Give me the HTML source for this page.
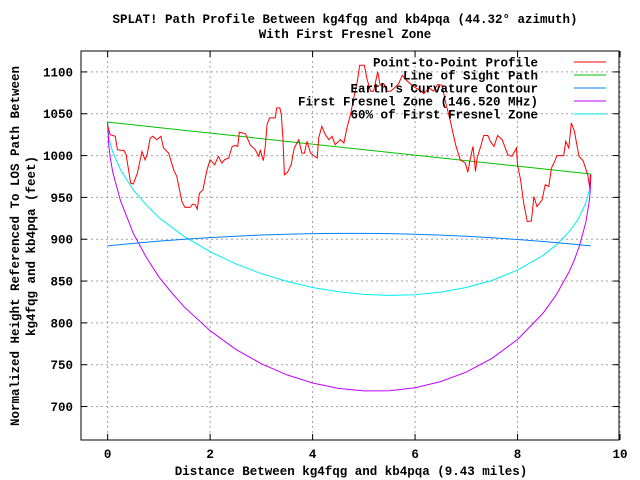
<!DOCTYPE html>
<html><head><meta charset="utf-8"><style>
html,body{margin:0;padding:0;background:#fff;}
svg{display:block;font-family:"Liberation Mono","DejaVu Sans Mono",monospace;font-weight:bold;font-size:12.5px;}
</style></head><body>
<svg id="chart" width="640" height="480" viewBox="0 0 640 480">
<rect width="640" height="480" fill="#fff"/>
<g id="grid"></g>
<g id="axes"></g>
<g id="series"></g>
<text x="345" y="23" text-anchor="middle">SPLAT! Path Profile Between kg4fqg and kb4pqa (44.32° azimuth)</text>
<text x="345" y="38" text-anchor="middle">With First Fresnel Zone</text>
<text x="351" y="475" text-anchor="middle">Distance Between kg4fqg and kb4pqa (9.43 miles)</text>
<text transform="translate(19,246) rotate(-90)" text-anchor="middle">Normalized Height Referenced To LOS Path Between</text>
<text transform="translate(35,246) rotate(-90)" text-anchor="middle">kg4fqg and kb4pqa (feet)</text>
<g id="legend"></g>
</svg>
<script>
const profileD=[0,0.05,0.15,0.19,0.32,0.36,0.45,0.50,0.58,0.67,0.73,0.77,0.83,0.88,0.96,1.04,1.09,1.19,1.29,1.35,1.45,1.51,1.61,1.66,1.71,1.75,1.79,1.86,1.94,2.00,2.09,2.16,2.23,2.28,2.36,2.43,2.49,2.54,2.57,2.69,2.78,2.88,2.95,2.98,3.01,3.04,3.08,3.11,3.16,3.27,3.30,3.36,3.39,3.42,3.45,3.51,3.58,3.64,3.73,3.79,3.84,3.89,3.96,4.09,4.12,4.18,4.25,4.32,4.38,4.44,4.54,4.61,4.67,4.74,4.80,4.87,4.92,5.01,5.06,5.13,5.19,5.27,5.32,5.39,5.44,5.52,5.60,5.68,5.75,5.83,5.94,6.01,6.10,6.17,6.27,6.36,6.44,6.53,6.59,6.69,6.79,6.88,6.98,7.03,7.08,7.13,7.18,7.21,7.28,7.34,7.42,7.47,7.54,7.61,7.70,7.81,7.89,7.98,8.00,8.06,8.12,8.19,8.27,8.32,8.38,8.48,8.54,8.61,8.66,8.71,8.77,8.90,8.94,9.00,9.05,9.11,9.20,9.28,9.37,9.41,9.42];
const profileH=[1036,1025,1023,1007,1006,1001,967,966,979,1005,995,1001,1021,1023,1019,1023,1009,1003,983,975,945,938,938,942,941,936,955,959,983,995,989,999,991,995,997,1011,1012,1011,1028,1026,1013,1007,999,1007,999,994,1013,1037,1045,1045,1057,1057,1049,1021,977,980,989,1009,1019,1003,1003,1017,1003,997,1021,1035,1025,1019,1023,1013,1019,1015,1033,1049,1068,1088,1108,1108,1092,1077,1077,1100,1084,1086,1077,1077,1081,1086,1096,1090,1084,1081,1078,1074,1081,1077,1085,1084,1065,1041,1013,995,991,980,997,1011,981,997,1011,1024,1024,1017,1011,1024,1019,1001,999,1009,989,971,943,921,922,951,939,947,965,963,985,991,1000,1000,1017,1009,1039,1029,999,994,977,961,977];
const losD=[0,9.43];
const losH=[1040,978];
const curveD=[0,0.5,1,1.5,2,2.5,3,3.5,4,4.5,5,5.5,6,6.5,7,7.5,8,8.5,9,9.43];
const curveH=[892,895,897.7,900,902,903.6,905,906,906.7,907,907,906.7,905.9,904.9,903.5,901.8,899.7,897.3,894.6,892];
const fresnelD=[0,0.02,0.05,0.1,0.25,0.5,0.75,1,1.25,1.5,2,2.5,3,3.5,4,4.5,5,5.5,6,6.5,7,7.5,8,8.5,8.75,9,9.1,9.2,9.33,9.4,9.42,9.43];
const fresnelH=[1040,1013.3,997.7,980,946,907,878.7,855,835.9,818.7,790.6,768.4,751.1,737.8,728.1,721.7,718.7,718.8,722.5,729.8,741.2,757.5,780.1,811.8,833.1,860.3,874,890.3,919.5,945.6,959.3,978];
const fresnel60H=[1040,1023.9,1014.5,1004,983,959,941.3,926,914.2,903,885.1,870.6,858.8,849.6,842.3,837.2,834.1,832.9,833.7,836.8,842.3,850.7,863.1,880.8,892.9,908.5,916.5,926,943.1,958.6,966.8,978];
const xTicks=[0,2,4,6,8,10];
const yTicks=[700,750,800,850,900,950,1000,1050,1100];
const legendLabels=["Point-to-Point Profile","Line of Sight Path","Earth's Curvature Contour","First Fresnel Zone (146.520 MHz)","60% of First Fresnel Zone"];
const legendColors=["#ff0000","#00c000","#0080ff","#c000ff","#00eeee"];

const L=81,R=619,T=51,B=440;
const xMin=-0.52,xMax=9.98,yMin=660,yMax=1125;
const X=d=>L+(d-xMin)/(xMax-xMin)*(R-L);
const Y=h=>B-(h-yMin)/(yMax-yMin)*(B-T);
const NS="http://www.w3.org/2000/svg";
function mk(tag,attrs,parent){const e=document.createElementNS(NS,tag);for(const k in attrs)e.setAttribute(k,attrs[k]);parent.appendChild(e);return e;}
const grid=document.getElementById('grid'),axes=document.getElementById('axes'),series=document.getElementById('series'),legend=document.getElementById('legend');

xTicks.forEach(v=>{
  const x=X(v);
  const g=mk('line',{x1:x,x2:x,y1:T,y2:B,stroke:'#a0a0a0','stroke-dasharray':'2,3'},grid);
  
  
  mk('line',{x1:x,x2:x,y1:B,y2:B-6,stroke:'#000'},axes);
  mk('line',{x1:x,x2:x,y1:T,y2:T+6,stroke:'#000'},axes);
  const t=mk('text',{x:x,y:B+18,'text-anchor':'middle'},axes);
  t.textContent=v;
  
  
});
yTicks.forEach(v=>{
  const y=Y(v);
  const g=mk('line',{x1:L,x2:R,y1:y,y2:y,stroke:'#a0a0a0','stroke-dasharray':'2,3'},grid);
  
  
  mk('line',{x1:L,x2:L+6,y1:y,y2:y,stroke:'#000'},axes);
  mk('line',{x1:R,x2:R-6,y1:y,y2:y,stroke:'#000'},axes);
  const t=mk('text',{x:L-8,y:y+4.5,'text-anchor':'end'},axes);
  t.textContent=v;
  
  
});
const frame=mk('rect',{x:L,y:T,width:R-L,height:B-T,fill:'none',stroke:'#000'},axes);



function line(ds,hs,color,name){
  const pts=ds.map((d,i)=>X(d).toFixed(1)+','+Y(hs[i]).toFixed(1)).join(' ');
  const p=mk('polyline',{points:pts,fill:'none',stroke:color,'stroke-width':1},series);
  
  
}
line(fresnelD,fresnel60H,legendColors[4],'fresnel-60-line');
line(fresnelD,fresnelH,legendColors[3],'fresnel-zone-line');
line(curveD,curveH,legendColors[2],'earth-curvature-line');
line(losD,losH,legendColors[1],'line-of-sight');
line(profileD,profileH,legendColors[0],'terrain-profile-line');

legendLabels.forEach((lab,i)=>{
  const y=62+i*13;
  const t=mk('text',{x:538,y:y+4.5,'text-anchor':'end'},legend);
  t.textContent=lab;
  
  
  const l=mk('line',{x1:574,x2:606,y1:y,y2:y,stroke:legendColors[i]},legend);
  
  
});
</script>
</body></html>
